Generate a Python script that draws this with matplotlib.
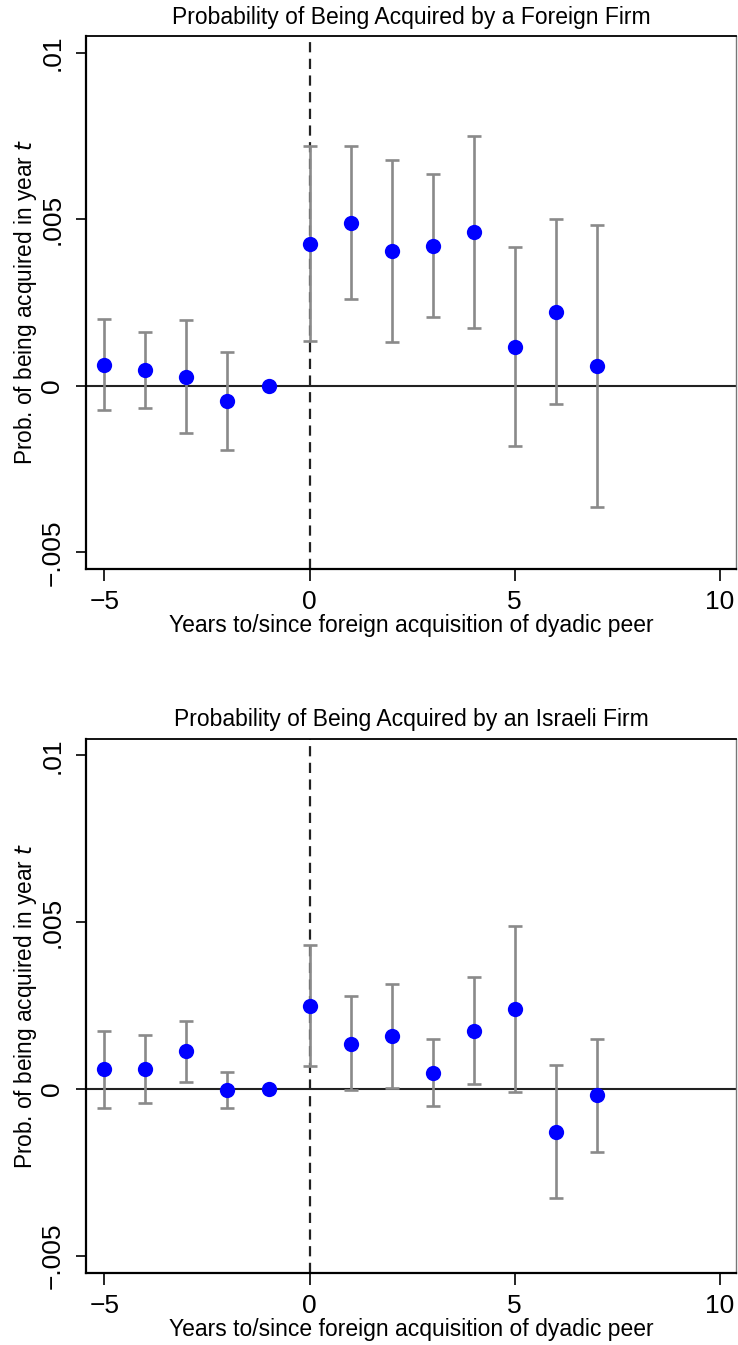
import matplotlib
matplotlib.use("Agg")
import matplotlib.pyplot as plt

plt.rcParams['font.family'] = ['Liberation Sans', 'DejaVu Sans']

years = [-5, -4, -3, -2, -1, 0, 1, 2, 3, 4, 5, 6, 7]

# Foreign acquirer
foreign_coef = [0.00062, 0.00047, 0.00027, -0.00046, 0.0, 0.00427, 0.00489, 0.00405,
                0.00420, 0.00462, 0.00117, 0.00222, 0.00058]
foreign_hi = [0.00200, 0.00162, 0.00196, 0.00100, None, 0.00719, 0.00720, 0.00678,
              0.00637, 0.00750, 0.00417, 0.00500, 0.00483]
foreign_lo = [-0.00074, -0.00067, -0.00142, -0.00192, None, 0.00135, 0.00261, 0.00131,
              0.00205, 0.00174, -0.00182, -0.00055, -0.00365]

# Israeli acquirer
israeli_coef = [0.00059, 0.00060, 0.00114, -0.00004, 0.0, 0.00250, 0.00136, 0.00159,
                0.00049, 0.00174, 0.00240, -0.00128, -0.00019]
israeli_hi = [0.00174, 0.00163, 0.00205, 0.00052, None, 0.00433, 0.00278, 0.00315,
              0.00149, 0.00335, 0.00490, 0.00071, 0.00150]
israeli_lo = [-0.00058, -0.00043, 0.00021, -0.00058, None, 0.00068, -0.00003, 0.00002,
              -0.00051, 0.00014, -0.00010, -0.00326, -0.00188]

titles = ["Probability of Being Acquired by a Foreign Firm",
          "Probability of Being Acquired by an Israeli Firm"]
xlabel = "Years to/since foreign acquisition of dyadic peer"
ylabel = "Prob. of being acquired in year $\\it{t}$"


def draw_panel(ax, coef, lo, hi, title):
    ax.axhline(0, color="#222222", lw=1.5, zorder=1)
    ax.axvline(0, color="#222222", lw=1.6, ls=(0, (4.6, 2.9)), zorder=1)
    for x, l, h in zip(years, lo, hi):
        if l is None:
            continue
        ax.errorbar([x], [(l + h) / 2], yerr=[[(h - l) / 2], [(h - l) / 2]], fmt="none",
                    ecolor="#8a8a8a", elinewidth=1.9, capsize=5.3, capthick=1.9, zorder=2)
    ax.plot(years, coef, "o", color="#0000ff", ms=11, mec="none", zorder=3)

    ax.set_xlim(-5.45, 10.4)
    ax.set_ylim(-0.0055, 0.0105)
    ax.set_xticks([-5, 0, 5, 10])
    ax.set_xticklabels(["\u22125", "0", "5", "10"])
    ax.set_yticks([-0.005, 0, 0.005, 0.01])
    ax.set_yticklabels(["\u2212.005", "0", ".005", ".01"], rotation=90, va="center")
    ax.tick_params(axis="both", direction="out", width=1.2, labelsize=19)
    ax.tick_params(axis="x", length=8.5, pad=7)
    ax.tick_params(axis="y", length=7.5, pad=8)
    ax.set_title(title, fontsize=16.5, pad=9)
    ax.set_xlabel(xlabel, fontsize=16.5, labelpad=0)
    ax.set_ylabel(ylabel, fontsize=16.3)
    ax.yaxis.set_label_coords(-0.073, 0.5)
    for side in ["left", "bottom"]:
        ax.spines[side].set_linewidth(1.6)
        ax.spines[side].set_color("black")
    ax.spines["top"].set_linewidth(1.3)
    ax.spines["right"].set_linewidth(1.0)
    ax.spines["right"].set_color("#777777")


fig = plt.figure(figsize=(7.38, 13.45), dpi=100)
ax1 = fig.add_axes([0.1165, 0.5770, 0.881, 0.3962])
ax2 = fig.add_axes([0.1165, 0.0538, 0.881, 0.3970])
draw_panel(ax1, foreign_coef, foreign_lo, foreign_hi, titles[0])
draw_panel(ax2, israeli_coef, israeli_lo, israeli_hi, titles[1])

fig.savefig("out.png", dpi=100, facecolor="white")
